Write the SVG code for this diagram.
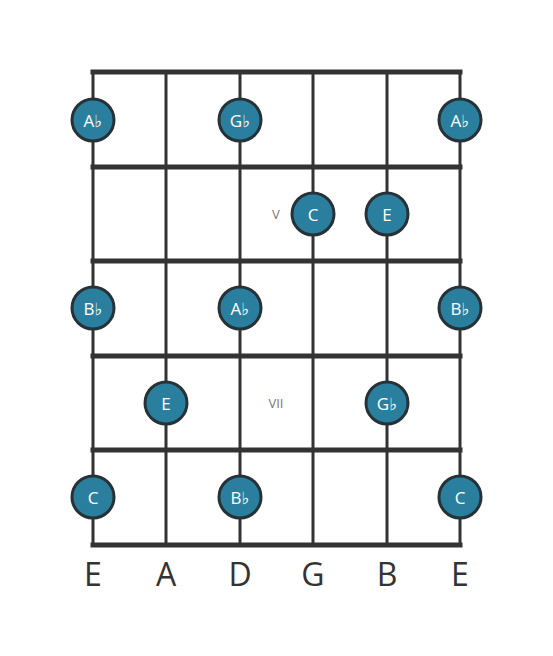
<svg xmlns="http://www.w3.org/2000/svg" width="553" height="656" viewBox="0 0 553 656">
<style>
.fret{stroke:#333;stroke-width:5;stroke-linecap:square}
.str{stroke:#333;stroke-width:3}
.note circle{fill:#2a7f9e;stroke:#263238;stroke-width:3}
.note text{fill:#fff;font-family:"Open Sans","DejaVu Sans",sans-serif;font-size:17px;text-anchor:middle;dominant-baseline:central}
.pos{fill:#777;font-family:"Open Sans","DejaVu Sans",sans-serif;font-size:13px;text-anchor:middle;dominant-baseline:central}
.sn{fill:#333;font-family:"Open Sans","DejaVu Sans",sans-serif;font-size:32px;text-anchor:middle;dominant-baseline:central}
</style>
<rect width="553" height="656" fill="#fff"/>
<g id="connectors">
<line class="str" x1="93" y1="72" x2="93" y2="545"/>
<line class="str" x1="166" y1="72" x2="166" y2="545"/>
<line class="str" x1="240" y1="72" x2="240" y2="545"/>
<line class="str" x1="313" y1="72" x2="313" y2="545"/>
<line class="str" x1="387" y1="72" x2="387" y2="545"/>
<line class="str" x1="460" y1="72" x2="460" y2="545"/>
<line class="fret" x1="93" y1="72" x2="460" y2="72"/>
<line class="fret" x1="93" y1="167" x2="460" y2="167"/>
<line class="fret" x1="93" y1="261" x2="460" y2="261"/>
<line class="fret" x1="93" y1="356" x2="460" y2="356"/>
<line class="fret" x1="93" y1="450" x2="460" y2="450"/>
<line class="fret" x1="93" y1="545" x2="460" y2="545"/>
</g>
<text class="pos" x="276" y="214">V</text>
<text class="pos" x="276" y="403">VII</text>
<g id="n1" class="note"><circle cx="93" cy="120" r="21"/><text x="93" y="120">A♭</text></g>
<g id="n2" class="note"><circle cx="240" cy="120" r="21"/><text x="240" y="120">G♭</text></g>
<g id="n3" class="note"><circle cx="460" cy="120" r="21"/><text x="460" y="120">A♭</text></g>
<g id="n4" class="note"><circle cx="313" cy="214" r="21"/><text x="313" y="214">C</text></g>
<g id="n5" class="note"><circle cx="387" cy="214" r="21"/><text x="387" y="214">E</text></g>
<g id="n6" class="note"><circle cx="93" cy="308" r="21"/><text x="93" y="308">B♭</text></g>
<g id="n7" class="note"><circle cx="240" cy="308" r="21"/><text x="240" y="308">A♭</text></g>
<g id="n8" class="note"><circle cx="460" cy="308" r="21"/><text x="460" y="308">B♭</text></g>
<g id="n9" class="note"><circle cx="166" cy="403" r="21"/><text x="166" y="403">E</text></g>
<g id="n10" class="note"><circle cx="387" cy="403" r="21"/><text x="387" y="403">G♭</text></g>
<g id="n11" class="note"><circle cx="93" cy="497" r="21"/><text x="93" y="497">C</text></g>
<g id="n12" class="note"><circle cx="240" cy="497" r="21"/><text x="240" y="497">B♭</text></g>
<g id="n13" class="note"><circle cx="460" cy="497" r="21"/><text x="460" y="497">C</text></g>
<text class="sn" x="93" y="573">E</text>
<text class="sn" x="166" y="573">A</text>
<text class="sn" x="240" y="573">D</text>
<text class="sn" x="313" y="573">G</text>
<text class="sn" x="387" y="573">B</text>
<text class="sn" x="460" y="573">E</text>
</svg>
